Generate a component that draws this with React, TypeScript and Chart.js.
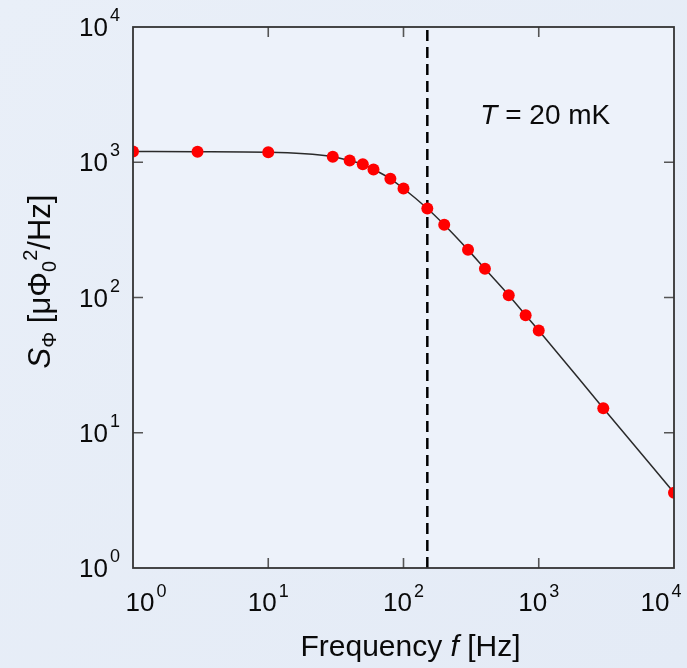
import React, { useEffect, useRef } from 'react';
import { Chart, registerables } from 'chart.js';

Chart.register(...registerables);

// ---- data ----
const frequencyHz = [1, 3, 10, 30, 40, 50, 60, 80, 100, 150, 200, 300, 400, 600, 800, 1000, 3000, 10000];
const fluxNoise = [1200, 1195, 1185, 1100, 1030, 965, 885, 755, 640, 455, 345, 225, 163, 104, 74, 57, 15.2, 3.6];
const cutoffFrequency = 150;
const axisMin = 1;
const axisMax = 10000;
const decadeTicks = [1, 10, 100, 1000, 10000];
const decadeExponents = ['0', '1', '2', '3', '4'];
const innerTicks = [10, 100, 1000];
const annotationLabel = { italic: 'T', rest: ' = 20 mK' };

const FONT = '"Liberation Sans", Arial, Helvetica, sans-serif';

const decoratePlugin = {
  id: 'decorate',
  beforeDraw(chart: any) {
    const { ctx, chartArea: a, width, height } = chart;
    ctx.save();
    const g = ctx.createLinearGradient(0, 0, width, height);
    g.addColorStop(0, '#e9eff8');
    g.addColorStop(1, '#e4ebf6');
    ctx.fillStyle = g;
    ctx.fillRect(0, 0, width, height);
    ctx.fillStyle = '#edf2fa';
    ctx.fillRect(a.left, a.top, a.right - a.left, a.bottom - a.top);
    ctx.restore();
  },
  afterDraw(chart: any) {
    const { ctx, chartArea: a } = chart;
    const xs = chart.scales.x;
    const ys = chart.scales.y;
    ctx.save();

    // inside ticks
    ctx.strokeStyle = '#555';
    ctx.lineWidth = 1.6;
    const tl = 10;
    innerTicks.forEach((v) => {
      const px = xs.getPixelForValue(v);
      const py = ys.getPixelForValue(v);
      ctx.beginPath();
      ctx.moveTo(px, a.bottom); ctx.lineTo(px, a.bottom - tl);
      ctx.moveTo(px, a.top); ctx.lineTo(px, a.top + tl);
      ctx.moveTo(a.left, py); ctx.lineTo(a.left + tl, py);
      ctx.moveTo(a.right, py); ctx.lineTo(a.right - tl, py);
      ctx.stroke();
    });

    // frame
    ctx.strokeStyle = '#333';
    ctx.lineWidth = 1.8;
    ctx.strokeRect(a.left, a.top, a.right - a.left, a.bottom - a.top);

    // tick labels
    ctx.fillStyle = '#0a0a0a';
    ctx.textBaseline = 'alphabetic';
    const big = `26px ${FONT}`;
    const small = `18px ${FONT}`;
    decadeTicks.forEach((v, i) => {
      const e = decadeExponents[i];
      // y axis
      const py = ys.getPixelForValue(v);
      ctx.font = big;
      ctx.textAlign = 'right';
      ctx.fillText('10', a.left - 25, py + 9);
      ctx.font = small;
      ctx.textAlign = 'left';
      ctx.fillText(e, a.left - 23, py - 6);
      // x axis
      const px = xs.getPixelForValue(v);
      ctx.font = big;
      const w1 = ctx.measureText('10').width;
      ctx.font = small;
      const w2 = ctx.measureText(e).width;
      const total = w1 + 2 + w2;
      let cx = px;
      if (i === 0) cx = px + 13;
      if (i === decadeTicks.length - 1) cx = px - 13;
      const x0 = cx - total / 2;
      ctx.textAlign = 'left';
      ctx.font = big;
      ctx.fillText('10', x0, a.bottom + 43);
      ctx.font = small;
      ctx.fillText(e, x0 + w1 + 2, a.bottom + 29);
    });

    // x title
    const tfont = `30px ${FONT}`;
    const tifont = `italic 30px ${FONT}`;
    const parts = [
      { t: 'Frequency ', f: tfont },
      { t: 'f', f: tifont },
      { t: ' [Hz]', f: tfont },
    ];
    let tw = 0;
    parts.forEach((p) => { ctx.font = p.f; tw += ctx.measureText(p.t).width; });
    let tx = (a.left + a.right) / 2 + 7 - tw / 2;
    parts.forEach((p) => {
      ctx.font = p.f;
      ctx.fillText(p.t, tx, a.bottom + 88);
      tx += ctx.measureText(p.t).width;
    });

    // y title (rotated)
    const ySegs = [
      { t: 'S', f: `italic 31px ${FONT}`, dy: 0 },
      { t: '\u03A6', f: `20px ${FONT}`, dy: 6 },
      { t: ' [\u03BC\u03A6', f: `31px ${FONT}`, dy: 0 },
      { t: '0', f: `20px ${FONT}`, dy: 6 },
      { t: '2', f: `20px ${FONT}`, dy: -13 },
      { t: '/Hz]', f: `31px ${FONT}`, dy: 0 },
    ];
    let yw = 0;
    ySegs.forEach((s) => { ctx.font = s.f; yw += ctx.measureText(s.t).width; });
    ctx.save();
    ctx.translate(50, (a.top + a.bottom) / 2 - 16);
    ctx.rotate(-Math.PI / 2);
    let sx = -yw / 2;
    ySegs.forEach((s) => {
      ctx.font = s.f;
      ctx.fillText(s.t, sx, s.dy);
      sx += ctx.measureText(s.t).width;
    });
    ctx.restore();

    // annotation
    const ax = xs.getPixelForValue(cutoffFrequency) + 53;
    const ay = ys.getPixelForValue(3000) + 26;
    ctx.font = `italic 28px ${FONT}`;
    ctx.fillText(annotationLabel.italic, ax, ay);
    const iw = ctx.measureText(annotationLabel.italic).width;
    ctx.font = `28px ${FONT}`;
    ctx.fillText(annotationLabel.rest, ax + iw, ay);

    ctx.restore();
  },
};

export default function App() {
  const ref = useRef<HTMLCanvasElement | null>(null);
  useEffect(() => {
    document.body.style.margin = '0';
    if (!ref.current) return;
    const chart = new Chart(ref.current, {
      type: 'line',
      data: {
        datasets: [
          {
            data: frequencyHz.map((f, i) => ({ x: f, y: fluxNoise[i] })),
            borderColor: '#2a2a2a',
            borderWidth: 1.5,
            cubicInterpolationMode: 'monotone',
            pointRadius: 6,
            pointBackgroundColor: '#ff0000',
            pointBorderWidth: 0,
            pointHoverRadius: 6,
            clip: 0,
          } as any,
          {
            data: [
              { x: cutoffFrequency, y: axisMin },
              { x: cutoffFrequency, y: axisMax },
            ],
            borderColor: '#000',
            borderWidth: 2.5,
            borderDash: [11, 6],
            pointRadius: 0,
            clip: 0,
          } as any,
        ],
      },
      options: {
        responsive: false,
        animation: false,
        events: [],
        layout: { padding: { left: 133, right: 13, top: 27, bottom: 100 } },
        plugins: { legend: { display: false }, tooltip: { enabled: false } },
        scales: {
          x: { type: 'logarithmic', min: axisMin, max: axisMax, display: false },
          y: { type: 'logarithmic', min: axisMin, max: axisMax, display: false },
        },
      },
      plugins: [decoratePlugin],
    });
    return () => chart.destroy();
  }, []);
  return <canvas ref={ref} width={687} height={668} style={{ display: 'block' }} />;
}
